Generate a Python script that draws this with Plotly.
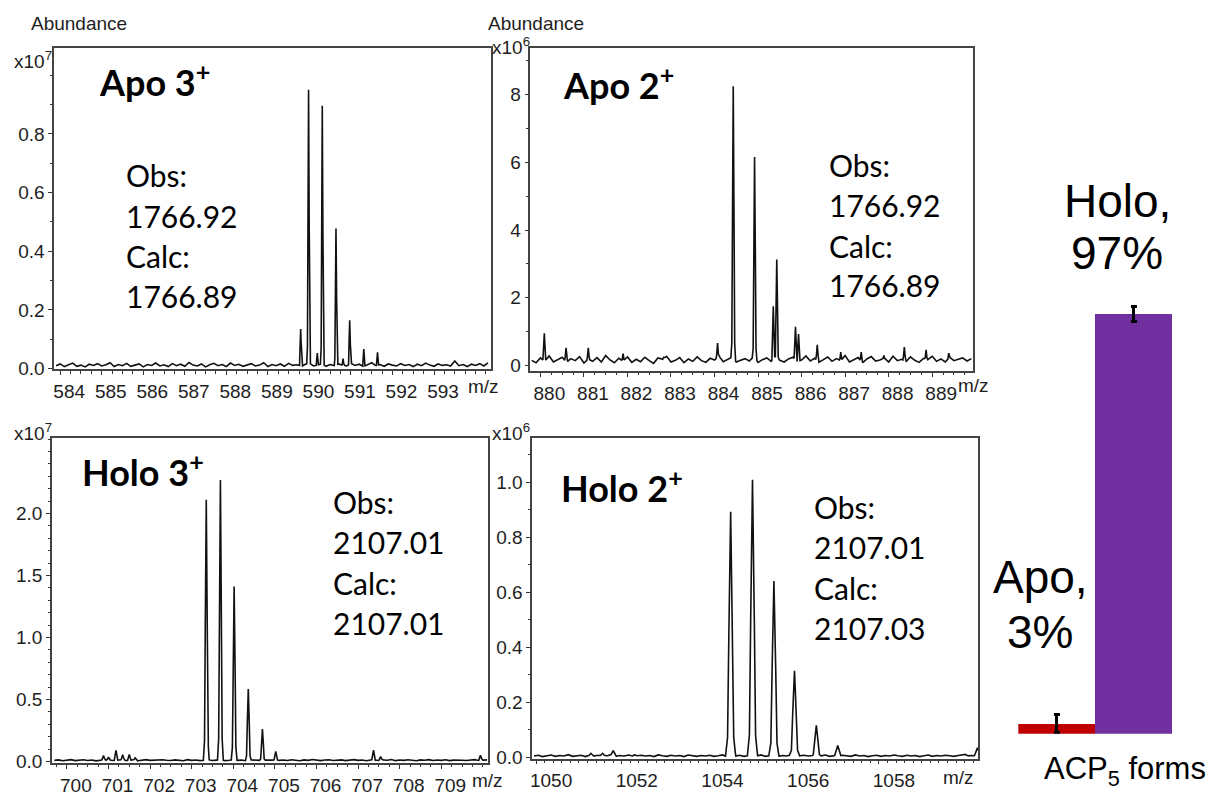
import numpy as np
import plotly.graph_objects as go

W, H = 1217, 802
NOISE_STEP = 0.1

# ---------------- data: Apo 3+ (x10^7) ----------------
apo3_noise_mz0 = 583.9
apo3_noise = [0.010, 0.016, 0.007, 0.013, 0.019, 0.008, 0.012, 0.006, 0.015, 0.011,
              0.017, 0.009, 0.013, 0.020, 0.007, 0.014, 0.010, 0.018, 0.008, 0.012,
              0.016, 0.006, 0.014, 0.011, 0.019, 0.009, 0.013, 0.007, 0.017, 0.010,
              0.015, 0.008, 0.021, 0.012, 0.009, 0.016, 0.006, 0.013, 0.018, 0.010,
              0.014, 0.007, 0.019, 0.011, 0.015, 0.008, 0.013, 0.017, 0.009, 0.012,
              0.020, 0.007, 0.014, 0.010, 0.016, 0.008, 0.018, 0.011, 0.013, 0.006,
              0.015, 0.019, 0.009, 0.012, 0.017, 0.008, 0.014, 0.010, 0.016, 0.012,
              0.009, 0.018, 0.011, 0.015, 0.007, 0.013, 0.020, 0.010, 0.014, 0.008,
              0.016, 0.012, 0.009, 0.017, 0.011, 0.014, 0.007, 0.015, 0.010, 0.019,
              0.012, 0.008, 0.016, 0.011, 0.013, 0.009, 0.026, 0.010, 0.014, 0.007,
              0.015, 0.011, 0.017, 0.009, 0.020]
apo3_peak_mz = [589.79, 589.98, 590.19, 590.31, 590.64, 590.81, 590.97, 591.31, 591.64]
apo3_peak_int = [0.135, 0.951, 0.053, 0.896, 0.478, 0.034, 0.165, 0.067, 0.056]
apo3_xticks = [584, 585, 586, 587, 588, 589, 590, 591, 592, 593]
apo3_yticks = [0.0, 0.2, 0.4, 0.6, 0.8]
apo3_ytext = ["0.0", "0.2", "0.4", "0.6", "0.8"]
apo3_title = "Apo 3<sup>+</sup>"
apo3_lines = ["Obs:", "1766.92", "Calc:", "1766.89"]
apo3_scale = "x10<sup>7</sup>"

# ---------------- data: Apo 2+ (x10^6) ----------------
apo2_noise_mz0 = 879.8
apo2_noise = [0.15, 0.08, 0.22, 0.12, 0.28, 0.10, 0.18, 0.24, 0.09, 0.20,
              0.14, 0.26, 0.07, 0.19, 0.12, 0.23, 0.10, 0.29, 0.16, 0.08,
              0.21, 0.13, 0.25, 0.09, 0.18, 0.11, 0.24, 0.14, 0.06, 0.22,
              0.17, 0.27, 0.10, 0.15, 0.23, 0.08, 0.19, 0.12, 0.25, 0.14,
              0.09, 0.21, 0.16, 0.28, 0.11, 0.18, 0.24, 0.10, 0.15, 0.20,
              0.13, 0.26, 0.09, 0.17, 0.22, 0.12, 0.27, 0.15, 0.10, 0.19,
              0.24, 0.11, 0.16, 0.28, 0.13, 0.21, 0.09, 0.18, 0.25, 0.12,
              0.20, 0.14, 0.29, 0.10, 0.17, 0.23, 0.08, 0.19, 0.26, 0.13,
              0.16, 0.22, 0.10, 0.27, 0.14, 0.18, 0.11, 0.25, 0.15, 0.09,
              0.21, 0.17, 0.27, 0.12, 0.19, 0.10, 0.24, 0.14, 0.18, 0.22,
              0.13, 0.20]
apo2_peak_mz = [880.09, 880.59, 881.10, 881.90, 882.83, 884.07, 884.43, 884.92, 885.35,
                885.43, 885.86, 885.93, 886.36, 886.90, 887.37, 887.89, 888.36, 888.86, 889.38]
apo2_peak_int = [0.95, 0.52, 0.52, 0.35, 0.24, 0.66, 8.25, 6.16, 1.75,
                 3.13, 1.14, 0.93, 0.61, 0.39, 0.39, 0.29, 0.54, 0.46, 0.36]
apo2_xticks = [880, 881, 882, 883, 884, 885, 886, 887, 888, 889]
apo2_yticks = [0, 2, 4, 6, 8]
apo2_ytext = ["0", "2", "4", "6", "8"]
apo2_title = "Apo 2<sup>+</sup>"
apo2_lines = ["Obs:", "1766.92", "Calc:", "1766.89"]
apo2_scale = "x10<sup>6</sup>"

# ---------------- data: Holo 3+ (x10^7) ----------------
holo3_noise_mz0 = 699.7
holo3_noise = [0.008, 0.012, 0.005, 0.010, 0.014, 0.006, 0.009, 0.013, 0.007, 0.011,
               0.004, 0.012, 0.008, 0.015, 0.006, 0.010, 0.013, 0.007, 0.009, 0.012,
               0.005, 0.011, 0.014, 0.008, 0.010, 0.006, 0.013, 0.009, 0.007, 0.012,
               0.010, 0.005, 0.014, 0.008, 0.011, 0.006, 0.009, 0.013, 0.007, 0.010,
               0.012, 0.006, 0.009, 0.014, 0.008, 0.011, 0.005, 0.013, 0.010, 0.007,
               0.012, 0.009, 0.006, 0.014, 0.008, 0.011, 0.007, 0.013, 0.010, 0.005,
               0.012, 0.008, 0.015, 0.009, 0.006, 0.011, 0.013, 0.007, 0.010, 0.012,
               0.006, 0.009, 0.014, 0.008, 0.011, 0.005, 0.013, 0.010, 0.007, 0.012,
               0.009, 0.015, 0.006, 0.011, 0.008, 0.013, 0.010, 0.005, 0.012, 0.009,
               0.014, 0.007, 0.011, 0.008, 0.013, 0.006, 0.010, 0.012, 0.009, 0.007,
               0.011, 0.014, 0.008, 0.010, 0.012]
holo3_peak_mz = [700.88, 701.00, 701.18, 701.34, 701.50, 701.64, 703.35, 703.69, 704.02,
                 704.36, 704.70, 705.02, 707.37, 707.54, 709.94]
holo3_peak_int = [0.048, 0.035, 0.088, 0.053, 0.056, 0.029, 2.11, 2.27, 1.41,
                  0.584, 0.26, 0.08, 0.09, 0.04, 0.05]
holo3_xticks = [700, 701, 702, 703, 704, 705, 706, 707, 708, 709]
holo3_yticks = [0.0, 0.5, 1.0, 1.5, 2.0]
holo3_ytext = ["0.0", "0.5", "1.0", "1.5", "2.0"]
holo3_title = "Holo 3<sup>+</sup>"
holo3_lines = ["Obs:", "2107.01", "Calc:", "2107.01"]
holo3_scale = "x10<sup>7</sup>"

# ---------------- data: Holo 2+ (x10^6) ----------------
holo2_noise_mz0 = 1049.95
holo2_noise = [0.004, 0.007, 0.002, 0.005, 0.008, 0.003, 0.006, 0.004, 0.009, 0.003,
               0.005, 0.007, 0.002, 0.006, 0.004, 0.008, 0.003, 0.005, 0.007, 0.002,
               0.006, 0.004, 0.009, 0.003, 0.005, 0.007, 0.004, 0.006, 0.002, 0.008,
               0.005, 0.003, 0.007, 0.004, 0.006, 0.002, 0.008, 0.005, 0.003, 0.006,
               0.004, 0.007, 0.003, 0.005, 0.008, 0.002, 0.006, 0.004, 0.007, 0.003,
               0.005, 0.006, 0.004, 0.008, 0.003, 0.005, 0.007, 0.002, 0.006, 0.004,
               0.008, 0.003, 0.005, 0.007, 0.004, 0.006, 0.002, 0.005, 0.008, 0.003,
               0.006, 0.004, 0.007, 0.005, 0.003, 0.008, 0.004, 0.006, 0.002, 0.005,
               0.007, 0.003, 0.006, 0.004, 0.008, 0.005, 0.003, 0.007, 0.004, 0.006,
               0.002, 0.005, 0.008, 0.003, 0.006, 0.004, 0.007, 0.005, 0.003, 0.006,
               0.009, 0.004, 0.006, 0.005]
holo2_peak_mz = [1051.28, 1051.55, 1051.80, 1052.29, 1054.54, 1055.05, 1055.55, 1056.03,
                 1056.54, 1057.04, 1060.02, 1060.30]
holo2_peak_int = [0.014, 0.014, 0.024, 0.008, 0.893, 1.009, 0.641, 0.314,
                  0.116, 0.042, 0.010, 0.034]
holo2_xticks = [1050, 1052, 1054, 1056, 1058]
holo2_yticks = [0.0, 0.2, 0.4, 0.6, 0.8, 1.0]
holo2_ytext = ["0.0", "0.2", "0.4", "0.6", "0.8", "1.0"]
holo2_title = "Holo 2<sup>+</sup>"
holo2_lines = ["Obs:", "2107.01", "Calc:", "2107.03"]
holo2_scale = "x10<sup>6</sup>"

# ---------------- data: ACP5 forms bar chart ----------------
bar_forms = ["Apo", "Holo"]
bar_percent = [2.4, 97.0]
bar_err = [2.0, 1.8]
bar_labels = [["Apo,", "3%"], ["Holo,", "97%"]]
bar_colors = ["#c00000", "#7030a0"]
bar_axis_title = "ACP<sub>5</sub> forms"

# ---------------- rendering helpers ----------------
PROFILE_X = np.array([-1.0, -0.6, -0.35, 0.0, 0.35, 0.6, 1.0])
PROFILE_F = np.array([0.0, 0.08, 0.5, 1.0, 0.5, 0.08, 0.0])


def build_profile(mz0, noise, peak_mz, peak_int, hw):
    nx = mz0 + NOISE_STEP * np.arange(len(noise))
    ny = np.asarray(noise, dtype=float)
    pieces = [nx] + [c + hw * PROFILE_X for c in peak_mz]
    x = np.unique(np.round(np.concatenate(pieces), 5))
    y = np.interp(x, nx, ny)
    for c, h in zip(peak_mz, peak_int):
        y = np.maximum(y, np.interp(x, c + hw * PROFILE_X, h * PROFILE_F, left=0.0, right=0.0))
    return x, y


def px(x):
    return x / W


def py(y):
    return 1 - y / H


panels = [
    dict(mz0=apo3_noise_mz0, noise=apo3_noise, pmz=apo3_peak_mz, pint=apo3_peak_int,
         xt=apo3_xticks, yt=apo3_yticks, ytx=apo3_ytext, title=apo3_title, lines=apo3_lines,
         scale=apo3_scale,
         box=(52.3, 49, 490, 374), xr=[583.856, 594.377], yr=[-0.0024, 1.0919],
         xminor=0.25, yminor=0.1, hw=0.045, shift=9,
         title_pos=(95, 81), lines_x=122, lines_y=[177, 219, 259, 300],
         scale_pos=(52, 61), mz_pos=(482, 391)),
    dict(mz0=apo2_noise_mz0, noise=apo2_noise, pmz=apo2_peak_mz, pint=apo2_peak_int,
         xt=apo2_xticks, yt=apo2_yticks, ytx=apo2_ytext, title=apo2_title, lines=apo2_lines,
         scale=apo2_scale,
         box=(529.3, 49, 972.7, 375.7), xr=[879.771, 889.940], yr=[-0.166, 9.372],
         xminor=0.25, yminor=1, hw=0.055, shift=9,
         title_pos=(560, 84), lines_x=826.7, lines_y=[167.5, 207.5, 249, 289],
         scale_pos=(531, 47), mz_pos=(973, 390)),
    dict(mz0=holo3_noise_mz0, noise=holo3_noise, pmz=holo3_peak_mz, pint=holo3_peak_int,
         xt=holo3_xticks, yt=holo3_yticks, ytx=holo3_ytext, title=holo3_title, lines=holo3_lines,
         scale=holo3_scale,
         box=(50, 443.3, 487.3, 772.7), xr=[699.640, 710.134], yr=[-0.0135, 2.611],
         xminor=0.25, yminor=0.1, hw=0.07, shift=9,
         title_pos=(78.3, 476), lines_x=330, lines_y=[508, 549, 590, 631],
         scale_pos=(52, 437), mz_pos=(486, 790)),
    dict(mz0=holo2_noise_mz0, noise=holo2_noise, pmz=holo2_peak_mz, pint=holo2_peak_int,
         xt=holo2_xticks, yt=holo2_yticks, ytx=holo2_ytext, title=holo2_title, lines=holo2_lines,
         scale=holo2_scale,
         box=(531, 443.3, 977.7, 768.3), xr=[1049.907, 1060.315], yr=[-0.0057, 1.162],
         xminor=0.2, yminor=0.1, hw=0.12, shift=15,
         title_pos=(558.3, 492), lines_x=811.7, lines_y=[513, 554, 595, 636],
         scale_pos=(531, 437), mz_pos=(958, 787)),
]

TICK_FONT = dict(family="Liberation Sans, Arial, sans-serif", size=19, color="#1e1e1e")
LINE_COLOR = "#444444"

fig = go.Figure()
layout = dict(width=W, height=H, margin=dict(l=0, r=0, t=0, b=0),
              paper_bgcolor="white", plot_bgcolor="white", showlegend=False,
              bargap=0)
annotations = []

for i, p in enumerate(panels, start=1):
    sfx = "" if i == 1 else str(i)
    x, y = build_profile(p["mz0"], p["noise"], p["pmz"], p["pint"], p["hw"])
    fig.add_trace(go.Scatter(x=x, y=y, mode="lines", line=dict(color="#111111", width=1.6),
                             xaxis="x" + sfx, yaxis="y" + sfx, hoverinfo="skip"))
    x0, y0, x1, y1 = p["box"]
    layout["xaxis" + sfx] = dict(
        domain=[px(x0), px(x1)], range=p["xr"], anchor="y" + sfx,
        showline=True, mirror=True, linecolor=LINE_COLOR, linewidth=1.5,
        showgrid=False, zeroline=False,
        tickmode="array", tickvals=p["xt"], ticktext=[str(v) for v in p["xt"]],
        ticks="outside", ticklen=4, tickwidth=1, tickcolor="#333333",
        ticklabelshift=p["shift"], tickfont=TICK_FONT,
        minor=dict(tickmode="linear", tick0=0, dtick=p["xminor"], ticks="outside",
                   ticklen=2.5, tickwidth=1, tickcolor="#333333"),
    )
    layout["yaxis" + sfx] = dict(
        domain=[py(y1), py(y0)], range=p["yr"], anchor="x" + sfx,
        showline=True, mirror=True, linecolor=LINE_COLOR, linewidth=1.5,
        showgrid=False, zeroline=False,
        tickmode="array", tickvals=p["yt"], ticktext=p["ytx"],
        ticks="outside", ticklen=4, tickwidth=1, tickcolor="#333333",
        tickfont=TICK_FONT,
        minor=dict(tickmode="linear", tick0=0, dtick=p["yminor"], ticks="outside",
                   ticklen=2.5, tickwidth=1, tickcolor="#333333"),
    )
    tx, ty = p["title_pos"]
    annotations.append(dict(x=px(tx), y=py(ty), xref="paper", yref="paper", xanchor="left",
                            yanchor="middle", showarrow=False, text="<b>" + p["title"] + "</b>",
                            font=dict(family="Lato, Carlito, sans-serif", size=36, color="#000000")))
    for line, ly in zip(p["lines"], p["lines_y"]):
        annotations.append(dict(x=px(p["lines_x"]), y=py(ly), xref="paper", yref="paper",
                                xanchor="left", yanchor="middle", showarrow=False, text=line,
                                font=dict(family="Lato, Carlito, sans-serif", size=30, color="#000000")))
    sx, sy = p["scale_pos"]
    annotations.append(dict(x=px(sx), y=py(sy), xref="paper", yref="paper", xanchor="right",
                            yanchor="middle", showarrow=False, text=p["scale"], font=TICK_FONT))
    mx, my = p["mz_pos"]
    annotations.append(dict(x=px(mx), y=py(my), xref="paper", yref="paper", xanchor="center",
                            yanchor="middle", showarrow=False, text="m/z", font=TICK_FONT))

for ax_, ay_ in [(77, 24), (535, 24)]:
    annotations.append(dict(x=px(ax_), y=py(ay_), xref="paper", yref="paper", xanchor="center",
                            yanchor="middle", showarrow=False, text="Abundance", font=TICK_FONT))

# ---------------- bar chart ----------------
fig.add_trace(go.Bar(x=bar_forms, y=bar_percent, xaxis="x5", yaxis="y5",
                     marker=dict(color=bar_colors, line=dict(width=0)),
                     error_y=dict(type="data", array=bar_err, visible=True,
                                  color="#000000", thickness=3, width=3),
                     hoverinfo="skip"))
bar_base_y, bar_top_y = 743, 261.1
layout["xaxis5"] = dict(domain=[px(1018), px(1172)], anchor="y5", visible=False,
                        range=[-0.5, 1.5])
layout["yaxis5"] = dict(domain=[py(bar_base_y), py(bar_top_y)], anchor="x5", visible=False,
                        range=[0, 110])

BIG_FONT = dict(family="Liberation Sans, Arial, sans-serif", size=46, color="#000000")
label_pos = [[(1040, 584), (1040, 640)], [(1117, 204), (1117, 256)]]
for labs, poss in zip(bar_labels, label_pos):
    for t, (lx, ly) in zip(labs, poss):
        annotations.append(dict(x=px(lx), y=py(ly), xref="paper", yref="paper", xanchor="center",
                                yanchor="middle", showarrow=False, text=t, font=BIG_FONT))
annotations.append(dict(x=px(1125), y=py(781), xref="paper", yref="paper", xanchor="center",
                        yanchor="middle", showarrow=False, text=bar_axis_title,
                        font=dict(family="Liberation Sans, Arial, sans-serif", size=31,
                                  color="#000000")))

layout["annotations"] = annotations
fig.update_layout(**layout)
fig.write_html("out.html")
